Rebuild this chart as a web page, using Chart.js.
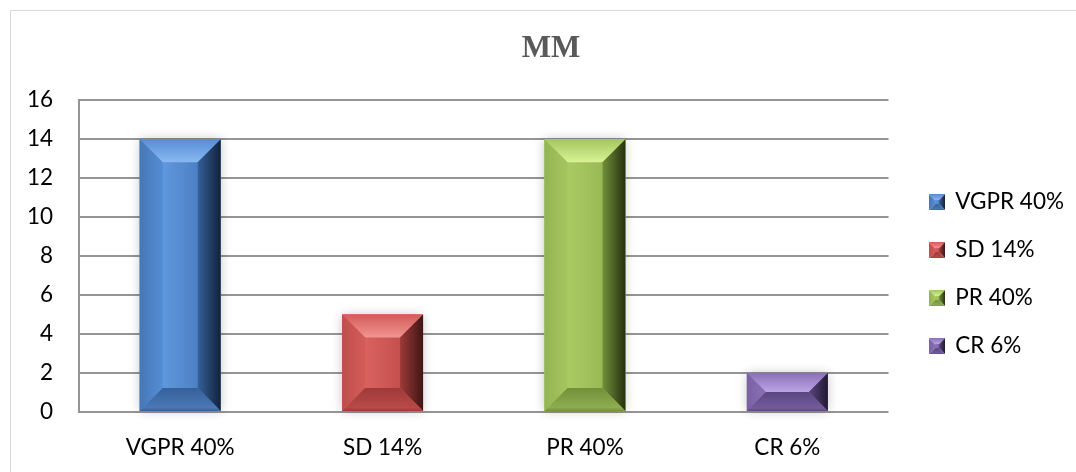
<!DOCTYPE html>
<html>
<head>
<meta charset="utf-8">
<script src="https://cdn.jsdelivr.net/npm/chart.js@4"></script>
<style>
  body { margin: 0; background: #fff; }
  #wrap { position: relative; width: 1076px; height: 472px; }
</style>
</head>
<body>
<div id="wrap"><canvas id="chart"></canvas></div>
<script>
// datos
const categorias = ['VGPR 40%', 'SD 14%', 'PR 40%', 'CR 6%'];
const valores = [14, 5, 14, 2];
const yMin = 0;
const yMax = 16;
const yPaso = 2;

// colores tipo bisel (Office)
const paletas = [
  { base: '#558ED5', light: '#8AB8F0', face1: '#6098DD', face2: '#4C80C4', edge: '#4677B6', mid: '#35609A', dark: '#14223A', bottom: '#4A78B4' },
  { base: '#D35C59', light: '#F29491', face1: '#D9625F', face2: '#C4504D', edge: '#BF4F4C', mid: '#9E3A38', dark: '#3F1514', bottom: '#B84A48' },
  { base: '#A5C65E', light: '#D8F395', face1: '#AACB63', face2: '#98B955', edge: '#93B453', mid: '#72903A', dark: '#26300F', bottom: '#8EAD4F' },
  { base: '#8A6FB6', light: '#BCA5E6', face1: '#8F74BB', face2: '#7C62A6', edge: '#7A61A3', mid: '#5A4680', dark: '#221832', bottom: '#735B9C' }
];

function trap(ctx, pts, fill) {
  ctx.beginPath();
  ctx.moveTo(pts[0][0], pts[0][1]);
  for (let i = 1; i < pts.length; i++) ctx.lineTo(pts[i][0], pts[i][1]);
  ctx.closePath();
  ctx.fillStyle = fill;
  ctx.fill();
}

function dibujarBisel(ctx, l, t, r, b, s, p) {
  s = Math.min(s, (b - t) / 2, (r - l) / 2);
  const il = l + s, ir = r - s, it = t + s, ib = b - s;

  let g = ctx.createLinearGradient(il, 0, ir, 0);
  g.addColorStop(0, p.face1);
  g.addColorStop(1, p.face2);
  ctx.fillStyle = g;
  ctx.fillRect(il, it, ir - il, ib - it);

  g = ctx.createLinearGradient(0, t, 0, it);
  g.addColorStop(0, p.base);
  g.addColorStop(1, p.light);
  trap(ctx, [[l, t], [r, t], [ir, it], [il, it]], g);

  g = ctx.createLinearGradient(l, 0, il, 0);
  g.addColorStop(0, p.edge);
  g.addColorStop(1, p.base);
  trap(ctx, [[l, t], [il, it], [il, ib], [l, b]], g);

  g = ctx.createLinearGradient(ir, 0, r, 0);
  g.addColorStop(0, p.mid);
  g.addColorStop(1, p.dark);
  trap(ctx, [[r, t], [r, b], [ir, ib], [ir, it]], g);

  g = ctx.createLinearGradient(0, ib, 0, b);
  g.addColorStop(0, p.mid);
  g.addColorStop(0.85, p.bottom);
  g.addColorStop(1, p.mid);
  trap(ctx, [[l, b], [il, ib], [ir, ib], [r, b]], g);
}

// iconos de la leyenda
const iconos = paletas.map(p => {
  const c = document.createElement('canvas');
  c.width = 16;
  c.height = 16;
  dibujarBisel(c.getContext('2d'), 0, 0, 16, 16, 6, p);
  return c;
});

const biselPlugin = {
  id: 'bisel',
  beforeDraw(chart) {
    const ctx = chart.ctx;
    ctx.save();
    ctx.strokeStyle = '#d9d9d9';
    ctx.lineWidth = 1;
    ctx.beginPath();
    ctx.moveTo(10.5, chart.height);
    ctx.lineTo(10.5, 10.5);
    ctx.lineTo(chart.width, 10.5);
    ctx.stroke();
    ctx.restore();
  },
  beforeDatasetsDraw(chart) {
    const ctx = chart.ctx;
    const meta = chart.getDatasetMeta(0);
    ctx.save();
    meta.data.forEach((bar, i) => {
      const { x, y, base, width } = bar.getProps(['x', 'y', 'base', 'width'], true);
      ctx.shadowColor = 'rgba(0,0,0,0.22)';
      ctx.shadowBlur = 10;
      ctx.fillStyle = paletas[i].base;
      ctx.fillRect(x - width / 2, y, width, base - y);
    });
    ctx.restore();
  },
  afterDatasetsDraw(chart) {
    const ctx = chart.ctx;
    const meta = chart.getDatasetMeta(0);
    ctx.save();
    meta.data.forEach((bar, i) => {
      const { x, y, base, width } = bar.getProps(['x', 'y', 'base', 'width'], true);
      dibujarBisel(ctx, x - width / 2, y, x + width / 2, base, 23, paletas[i]);
    });
    ctx.restore();
  }
};

const fuente = { family: 'Lato', size: 22.5 };
const gris = '#959595';

new Chart(document.getElementById('chart'), {
  type: 'bar',
  data: {
    labels: categorias,
    datasets: [{
      data: valores,
      backgroundColor: paletas.map(p => p.base),
      borderWidth: 0,
      categoryPercentage: 1,
      barPercentage: 0.4
    }]
  },
  options: {
    responsive: true,
    maintainAspectRatio: false,
    animation: false,
    layout: { padding: { left: 28, right: 2, top: 0, bottom: 12 } },
    plugins: {
      title: {
        display: true,
        text: 'MM',
        color: '#595959',
        font: { family: 'Liberation Serif', size: 31, weight: 'bold', lineHeight: 1.2 },
        padding: { top: 30, bottom: 33 }
      },
      legend: {
        position: 'right',
        fullSize: false,
        title: { display: true, text: '', font: { size: 12, lineHeight: 1 }, padding: 12 },
        labels: {
          usePointStyle: true,
          boxWidth: 14,
          boxHeight: 14,
          padding: 25.5,
          color: '#000',
          font: { family: 'Lato', size: 22.5, lineHeight: 1 },
          generateLabels: () => categorias.map((c, i) => ({
            text: c,
            pointStyle: iconos[i],
            fillStyle: paletas[i].base,
            fontColor: '#000',
            strokeStyle: 'transparent',
            lineWidth: 0,
            hidden: false,
            index: i,
            datasetIndex: 0
          }))
        }
      },
      tooltip: { enabled: false }
    },
    scales: {
      x: {
        grid: { display: false, drawTicks: false },
        border: { display: false },
        ticks: { color: '#000', font: fuente, padding: 22 },
        afterFit(s) { s.height = 48; }
      },
      y: {
        min: yMin,
        max: yMax,
        grid: { color: gris, lineWidth: 2, drawTicks: false },
        border: { display: true, color: gris, width: 2 },
        ticks: { stepSize: yPaso, color: '#000', font: fuente, padding: 26 },
        afterFit(s) { s.width = 51; }
      },
      y2: {
        position: 'right',
        grid: { display: false, drawTicks: false },
        border: { display: false },
        ticks: { display: false },
        afterFit(s) { s.width = 16; }
      }
    }
  },
  plugins: [biselPlugin]
});
</script>
</body>
</html>
